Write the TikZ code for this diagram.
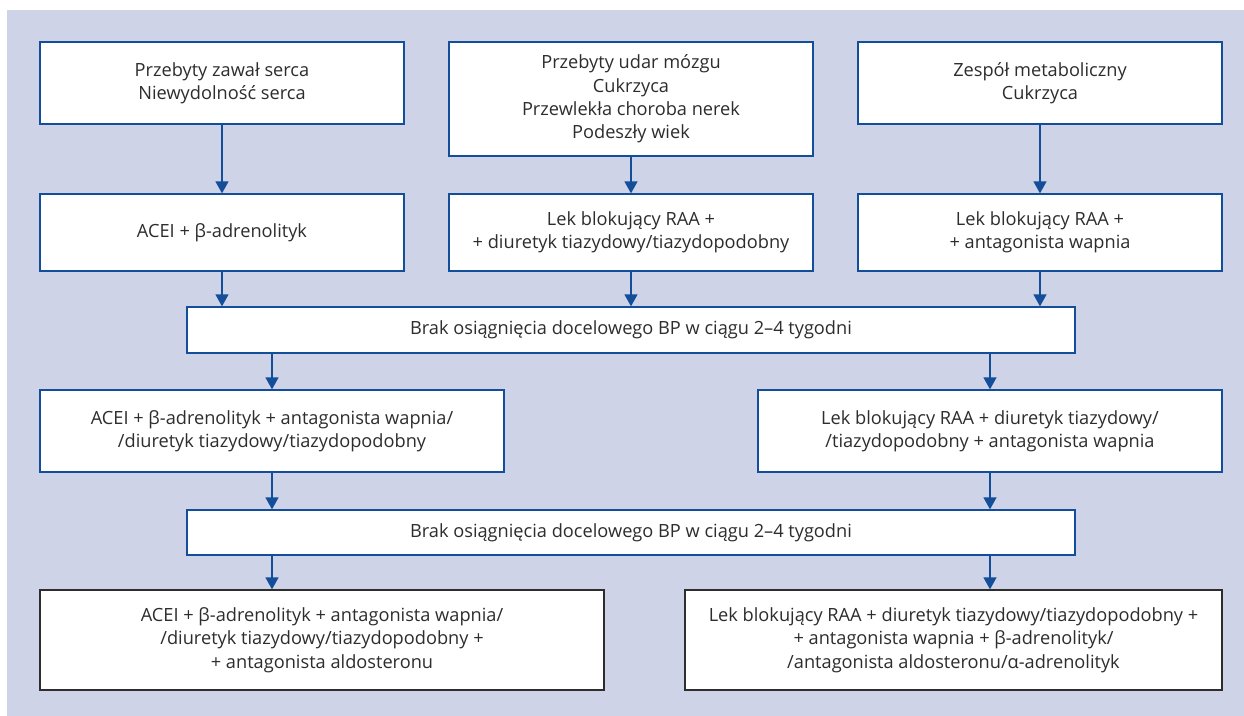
\documentclass[tikz,border=0pt]{standalone}
\usepackage{fontspec}
\setmainfont{Open Sans}
\usetikzlibrary{arrows.meta}
\definecolor{mylavender}{RGB}{206,211,232}
\definecolor{myblue}{RGB}{18,78,154}
\definecolor{mygray}{RGB}{45,45,45}
\tikzset{
  box/.style={draw=myblue, line width=0.65pt, fill=white, align=center, inner sep=0pt,
    text=mygray, font=\fontsize{9.1}{11.7}\selectfont},
  lastbox/.style={box, draw=mygray},
  arr/.style={draw=myblue, line width=0.75pt, -{Triangle[width=6.5pt,length=6pt]}}
}
\begin{document}
\begin{tikzpicture}[x=0.5pt, y=-0.5pt]
  \useasboundingbox (0,0) rectangle (1244,716);
  \fill[mylavender] (7,10) rectangle (1244,716);
  % first row
  \node[box, minimum width=182pt, minimum height=41pt] (zawal) at (222,83) {Przebyty zawał serca\\Niewydolność serca};
  \node[box, minimum width=182pt, minimum height=57pt] (udar) at (631,99) {Przebyty udar mózgu\\Cukrzyca\\Przewlekła choroba nerek\\Podeszły wiek};
  \node[box, minimum width=182pt, minimum height=41pt] (metab) at (1040,83) {Zespół metaboliczny\\Cukrzyca};
  % second row
  \node[box, minimum width=182pt, minimum height=38.5pt] (acei) at (222,232.5) {ACEI + β-adrenolityk};
  \node[box, minimum width=182pt, minimum height=38.5pt] (raadiur) at (631,232.5) {Lek blokujący RAA +\\+ diuretyk tiazydowy/tiazydopodobny};
  \node[box, minimum width=182pt, minimum height=38.5pt] (raaca) at (1040,232.5) {Lek blokujący RAA +\\+ antagonista wapnia};
  \node[box, minimum width=444pt, minimum height=23pt] (brak1) at (631,330) {Brak osiągnięcia docelowego BP w ciągu 2--4 tygodni};
  % third step
  \node[box, minimum width=232pt, minimum height=41pt] (acei3) at (272,431) {ACEI + β-adrenolityk + antagonista wapnia/\\/diuretyk tiazydowy/tiazydopodobny};
  \node[box, minimum width=232pt, minimum height=41pt] (raa3) at (990,431) {Lek blokujący RAA + diuretyk tiazydowy/\\/tiazydopodobny + antagonista wapnia};
  \node[box, minimum width=444pt, minimum height=22.5pt] (brak2) at (631,532.5) {Brak osiągnięcia docelowego BP w ciągu 2--4 tygodni};
  % last step
  \node[lastbox, minimum width=282pt, minimum height=50pt] (acei4) at (322,640) {ACEI + β-adrenolityk + antagonista wapnia/\\/diuretyk tiazydowy/tiazydopodobny +\\+ antagonista aldosteronu};
  \node[lastbox, minimum width=268.5pt, minimum height=50pt] (raa4) at (953.5,640) {Lek blokujący RAA + diuretyk tiazydowy/tiazydopodobny +\\+ antagonista wapnia + β-adrenolityk/\\/antagonista aldosteronu/α-adrenolityk};
  \draw[arr] (zawal) -- (acei);
  \draw[arr] (udar) -- (raadiur);
  \draw[arr] (metab) -- (raaca);
  \draw[arr] (acei) -- (acei |- brak1.north);
  \draw[arr] (raadiur) -- (raadiur |- brak1.north);
  \draw[arr] (raaca) -- (raaca |- brak1.north);
  \draw[arr] (brak1.south -| acei3) -- (acei3);
  \draw[arr] (brak1.south -| raa3) -- (raa3);
  \draw[arr] (acei3) -- (acei3 |- brak2.north);
  \draw[arr] (raa3) -- (raa3 |- brak2.north);
  \draw[arr] (brak2.south -| acei3) -- (acei3 |- acei4.north);
  \draw[arr] (brak2.south -| raa3) -- (raa3 |- raa4.north);
\end{tikzpicture}
\end{document}
